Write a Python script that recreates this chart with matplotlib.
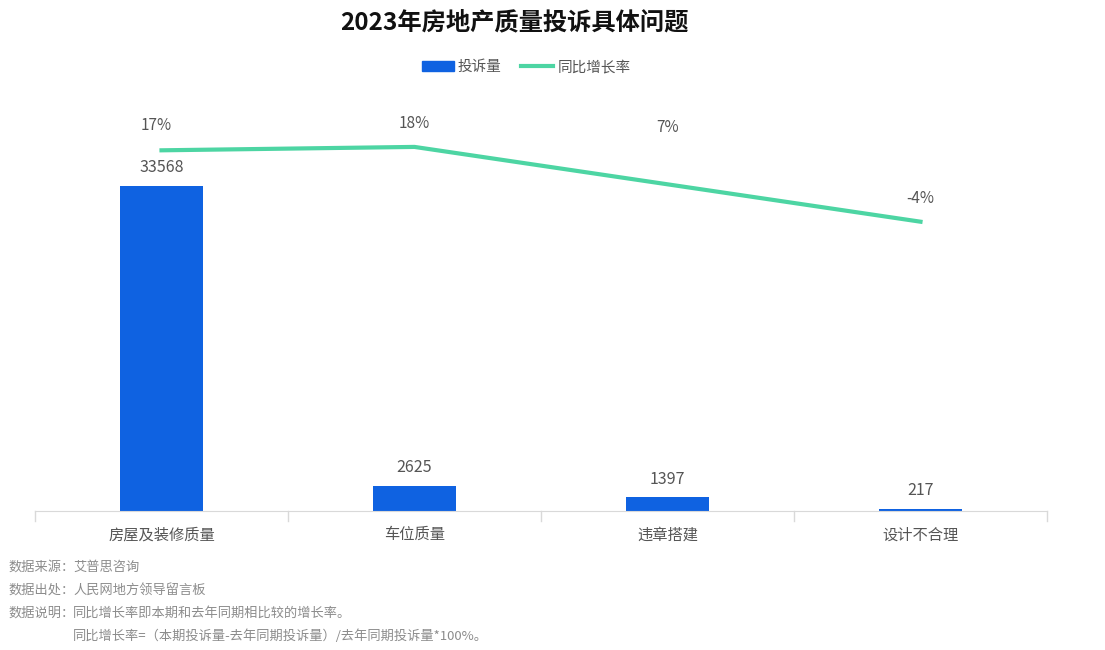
import matplotlib
matplotlib.use("Agg")
import matplotlib.pyplot as plt
from matplotlib.lines import Line2D
from matplotlib.patches import Patch

plt.rcParams['font.family'] = ['Noto Sans CJK SC', 'DejaVu Sans']

# data
categories = ['房屋及装修质量', '车位质量', '违章搭建', '设计不合理']
complaints = [33568, 2625, 1397, 217]
yoy_growth = [17, 18, 7, -4]

bar_color = '#0f62e1'
line_color = '#4dd5a3'
text_color = '#555555'

fig = plt.figure(figsize=(11.05, 6.5), dpi=100)

ax = fig.add_axes([35 / 1105, 139 / 650, 1012 / 1105, 411 / 650])
ax.patch.set_alpha(0)
x = list(range(len(categories)))

ax.bar(x, complaints, width=0.33, color=bar_color, zorder=2)
ax.set_xlim(-0.5, len(categories) - 0.5)
ax.set_ylim(0, 42450)
for xi, v in zip(x, complaints):
    ax.annotate(str(v), (xi, v), xytext=(0, 7), textcoords='offset points',
                ha='center', va='bottom', fontsize=11.5, color=text_color,
                fontweight='light')

ax.set_yticks([])
for s in ['top', 'right', 'left']:
    ax.spines[s].set_visible(False)
ax.spines['bottom'].set_color('#d9d9d9')
ax.set_xticks(x)
ax.set_xticklabels(categories, fontsize=11, color=text_color, fontweight='light')
ax.tick_params(axis='x', length=0, pad=11)
# band boundary ticks
for b in [i - 0.5 for i in range(len(categories) + 1)]:
    ax.plot([b, b], [0, -1000], color='#d9d9d9', lw=1, clip_on=False)

ax2 = ax.twinx()
ax2.set_ylim(-89.1, 31.8)
ax2.plot(x, yoy_growth, color=line_color, lw=3, zorder=3)
label_offsets = [18, 17, 41, 17]
for xi, v, off in zip(x, yoy_growth, label_offsets):
    ax2.annotate(f'{v}%', (xi, v), xytext=(-4 if xi == 0 else 0, off),
                 textcoords='offset points', ha='center', va='center',
                 fontsize=11, color=text_color, fontweight='light')
ax2.set_yticks([])
for s in ax2.spines.values():
    s.set_visible(False)

fig.text(514 / 1105, 1 - 22 / 650, '2023年房地产质量投诉具体问题',
         ha='center', va='center', fontsize=17.5, fontweight='bold', color='#111111')

handles = [Patch(color=bar_color), Line2D([], [], color=line_color, lw=3)]
fig.legend(handles, ['投诉量', '同比增长率'], loc='center',
           bbox_to_anchor=(526 / 1105, 1 - 67 / 650), ncol=2, frameon=False,
           fontsize=10.5, labelcolor=text_color, handlelength=2.2,
           handleheight=0.7, handletextpad=0.3, columnspacing=1.3)

notes = [('数据来源：', '艾普思咨询'),
         ('数据出处：', '人民网地方领导留言板'),
         ('数据说明：', '同比增长率即本期和去年同期相比较的增长率。'),
         ('', '同比增长率=（本期投诉量-去年同期投诉量）/去年同期投诉量*100%。')]
for i, (head, body) in enumerate(notes):
    yy = 1 - (567 + 23 * i) / 650
    if head:
        fig.text(8 / 1105, yy, head, ha='left', va='center', fontsize=9.5,
                 color='#8c8c8c', fontweight='light')
    fig.text(73 / 1105, yy, body, ha='left', va='center', fontsize=9.5,
             color='#8c8c8c', fontweight='light')

fig.savefig('out.png', dpi=100)
